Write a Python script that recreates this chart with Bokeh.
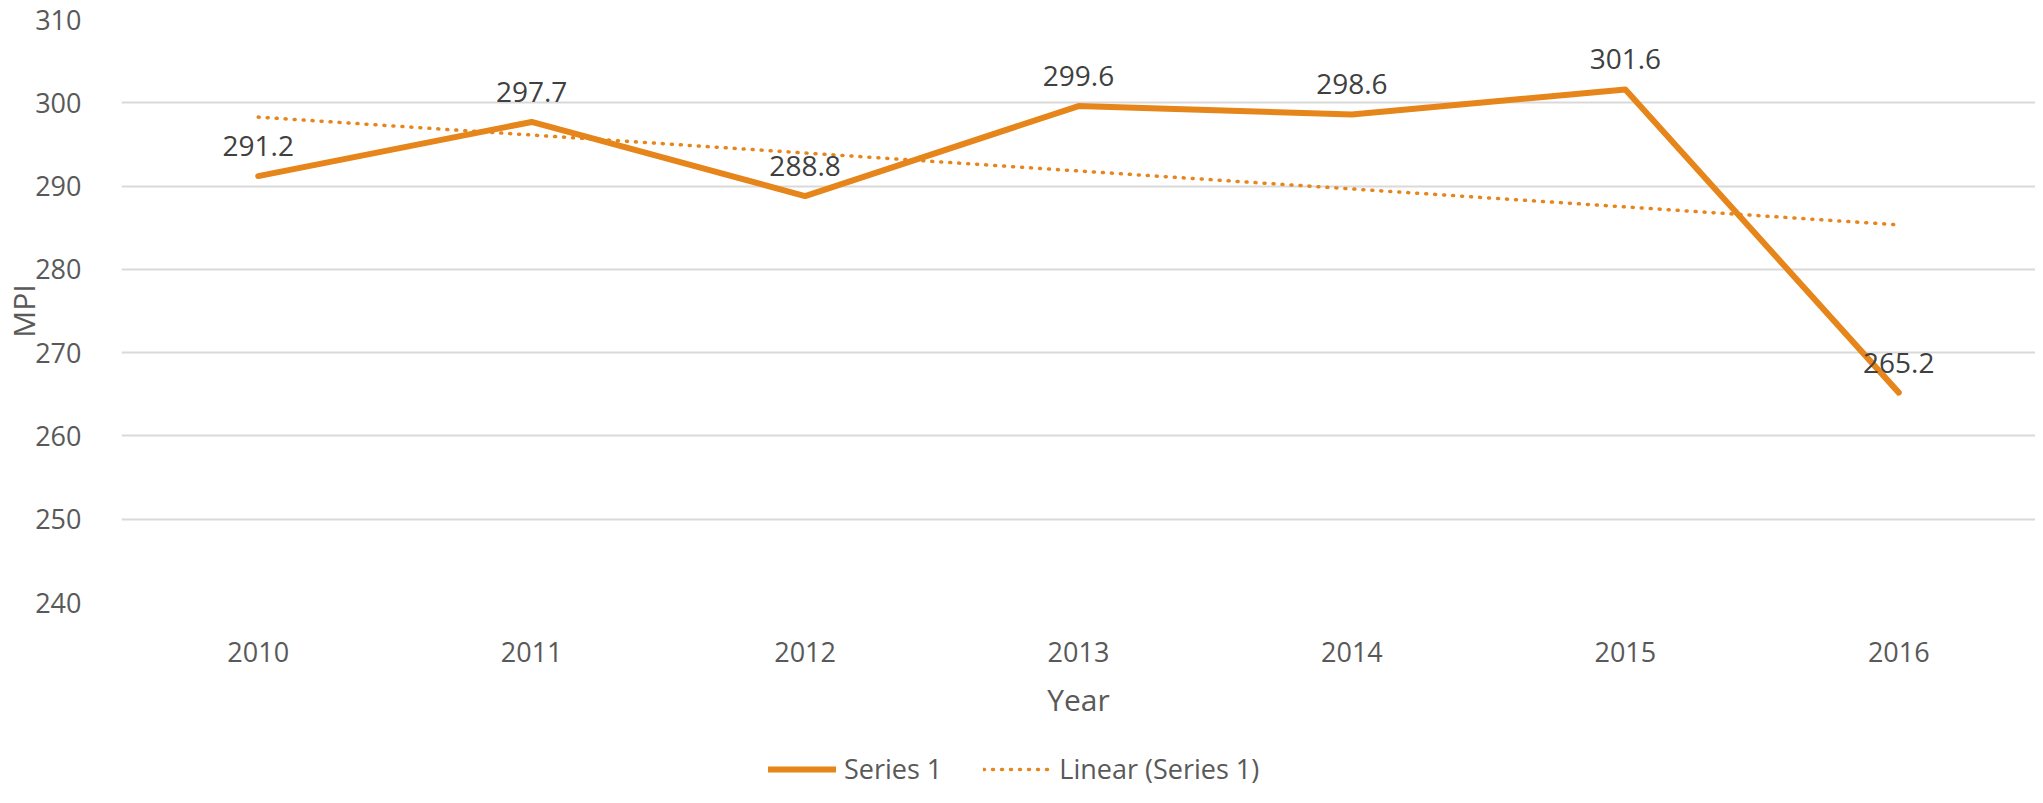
import numpy as np
from bokeh.plotting import figure
from bokeh.layouts import column
from bokeh.models import Range1d, FactorRange, Legend, LegendItem, ColumnDataSource, FixedTicker
from bokeh.core.properties import value
from bokeh.embed import file_html
from bokeh.resources import INLINE

years = ["2010", "2011", "2012", "2013", "2014", "2015", "2016"]
mpi = [291.2, 297.7, 288.8, 299.6, 298.6, 301.6, 265.2]
y_ticks = [240, 250, 260, 270, 280, 290, 300, 310]
series_name = "Series 1"
trend_name = "Linear (Series 1)"

# linear trendline (least squares fit of the series, as in the spreadsheet)
xi = np.arange(len(mpi))
slope, intercept = np.polyfit(xi, mpi, 1)
trend = list(intercept + slope * xi)

ORANGE = "#E6851A"
FONT = "Open Sans"

W = 2035
H_MAIN, H_LEG = 722, 65

p = figure(width=W, height=H_MAIN, x_range=FactorRange(*years, range_padding=0),
           y_range=Range1d(240, 310), output_backend="svg", toolbar_location=None,
           min_border_left=117, min_border_top=19, min_border_right=0, min_border_bottom=117)
p.outline_line_color = None
p.background_fill_color = "white"
p.border_fill_color = "white"

src = ColumnDataSource(dict(x=years, y=mpi, t=trend, lab=[f"{v:.1f}" for v in mpi]))

p.line("x", "t", source=src, color=ORANGE, line_width=3.5, line_dash="1 8", line_cap="round")
p.line("x", "y", source=src, color=ORANGE, line_width=6, line_join="round", line_cap="round")

p.text("x", "y", text="lab", source=src, text_font=value(FONT), text_font_size="28px",
       text_color="#404040", text_align="center", text_baseline="middle", y_offset=-30)

# grid
p.xgrid.grid_line_color = None
p.ygrid.grid_line_color = "#D9D9D9"
p.ygrid.grid_line_width = 2
p.yaxis.ticker = FixedTicker(ticks=y_ticks)

for ax in (p.xaxis[0], p.yaxis[0]):
    ax.axis_line_color = None
    ax.major_tick_line_color = None
    ax.minor_tick_line_color = None
    ax.major_tick_out = 0
    ax.major_tick_in = 0
    ax.major_label_text_font = FONT
    ax.major_label_text_font_size = "27px"
    ax.major_label_text_color = "#595959"
    ax.axis_label_text_font = FONT
    ax.axis_label_text_font_size = "30px"
    ax.axis_label_text_color = "#595959"
    ax.axis_label_text_font_style = "normal"

p.yaxis.major_label_standoff = 40
p.xaxis.major_label_standoff = 39
p.xaxis.axis_label = "Year"
p.yaxis.axis_label = "MPI"
p.xaxis.axis_label_standoff = 14
p.yaxis.axis_label_standoff = -12

# legend strip below the chart (no axes, the frame fills the strip)
pl = figure(width=W, height=H_LEG, x_range=Range1d(0, 1), y_range=Range1d(0, 1),
            x_axis_location=None, y_axis_location=None,
            output_backend="svg", toolbar_location=None, min_border=0)
pl.grid.visible = False
pl.outline_line_color = None
pl.background_fill_color = "white"
pl.border_fill_color = "white"
# legend sample renderers (their data lie outside this strip's ranges, so only the legend samples show)
lg_main = pl.line(xi, mpi, color=ORANGE, line_width=6, line_cap="round")
lg_trend = pl.line(xi, trend, color=ORANGE, line_width=3.5, line_dash="1 8", line_cap="round")

legend = Legend(items=[LegendItem(label=series_name, renderers=[lg_main]),
                       LegendItem(label=trend_name, renderers=[lg_trend])],
                location=(647, 0), orientation="horizontal",
                glyph_width=68, glyph_height=20, label_standoff=8, spacing=41,
                padding=0, margin=0, border_line_color=None, background_fill_alpha=0,
                label_text_font=FONT, label_text_font_size="27px", label_text_color="#595959")
pl.add_layout(legend)

layout = column(p, pl, spacing=0)
open("out.html", "w").write(file_html(layout, INLINE))
